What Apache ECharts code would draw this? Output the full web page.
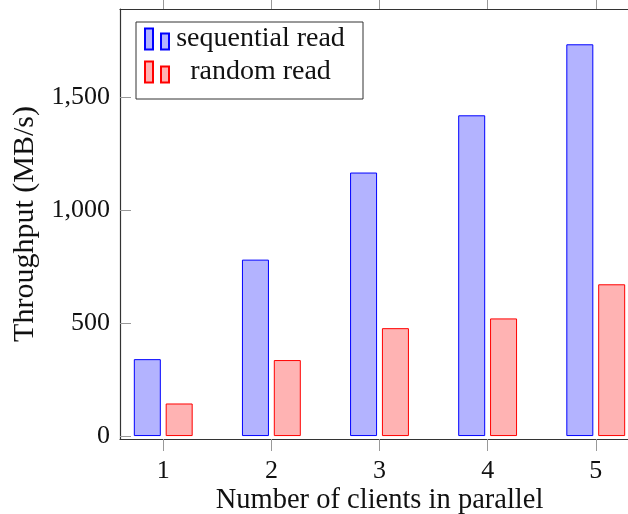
<!DOCTYPE html>
<html>
<head>
<meta charset="utf-8">
<script src="https://cdn.jsdelivr.net/npm/echarts@6/dist/echarts.min.js"></script>
<style>html,body{margin:0;padding:0;background:#fff}#c{width:628px;height:514px}</style>
</head>
<body>
<div id="c"></div>
<script>
const clients = [1, 2, 3, 4, 5];
const sequentialRead = [340, 780, 1165, 1418, 1732];
const randomRead = [144, 336, 477, 520, 671];
const yTicks = [0, 500, 1000, 1500];
const seriesNames = ['sequential read', 'random read'];

const FONT = '"Liberation Serif", "Times New Roman", serif';
const chart = echarts.init(document.getElementById('c'), null, {renderer: 'canvas'});
const tickStyle = {color: '#999', width: 1};
const lineStyle = {color: '#333', width: 1.2};
const iconPath = 'path://M0,0L8,0L8,21L0,21Z M16,5L24,5L24,21L16,21Z';

chart.setOption({
  animation: false,
  backgroundColor: '#fff',
  grid: {left: 120, top: 9, right: -11, bottom: 75, containLabel: false, outerBoundsMode: 'none'},
  legend: {
    orient: 'vertical',
    left: 136, top: 22,
    padding: [3, 16, 13, 8],
    itemGap: 5,
    itemWidth: 24, itemHeight: 21,
    itemTextGap: 5,
    borderColor: '#333', borderWidth: 1,
    backgroundColor: '#fff',
    data: seriesNames.map(n => ({name: n, icon: iconPath})),
    formatter: n => '{t|' + n + '}',
    textStyle: {
      fontFamily: FONT, fontSize: 28, color: '#111',
      rich: {t: {fontFamily: FONT, fontSize: 28, lineHeight: 28, color: '#111', width: 173, align: 'center'}}
    }
  },
  xAxis: [{
    type: 'value', min: 0.6, max: 5.4, position: 'bottom',
    axisLine: {show: true, onZero: false, lineStyle},
    axisTick: {show: true, inside: false, length: 12, lineStyle: tickStyle, customValues: clients},
    axisLabel: {fontFamily: FONT, fontSize: 26, color: '#111', margin: 19, customValues: clients},
    splitLine: {show: false},
    name: 'Number of clients in parallel', nameLocation: 'middle', nameGap: 47, nameMoveOverlap: false,
    nameTextStyle: {fontFamily: FONT, fontSize: 28.5, color: '#111'}
  }, {
    type: 'value', min: 0.6, max: 5.4, position: 'top',
    axisLine: {show: true, onZero: false, lineStyle},
    axisTick: {show: true, inside: false, length: 12, lineStyle: tickStyle, customValues: clients},
    axisLabel: {show: false},
    splitLine: {show: false}
  }],
  yAxis: {
    type: 'value', min: -13, max: 1888,
    axisLine: {show: true, onZero: false, lineStyle},
    axisTick: {show: true, inside: true, length: 11, lineStyle: tickStyle, customValues: yTicks},
    axisLabel: {fontFamily: FONT, fontSize: 26, color: '#111', margin: 10, customValues: yTicks,
      formatter: v => v.toLocaleString('en-US')},
    splitLine: {show: false},
    name: 'Throughput (MB/s)', nameLocation: 'middle', nameGap: 80, nameRotate: 90, nameMoveOverlap: false,
    nameTextStyle: {fontFamily: FONT, fontSize: 30, color: '#111'}
  },
  series: [{
    name: seriesNames[0], type: 'bar', xAxisIndex: 0,
    data: clients.map((c, i) => [c, sequentialRead[i]]),
    barWidth: 27, barGap: '18%',
    itemStyle: {color: '#b3b3ff', borderColor: '#0000ff', borderWidth: 1}
  }, {
    name: seriesNames[1], type: 'bar', xAxisIndex: 0,
    data: clients.map((c, i) => [c, randomRead[i]]),
    barWidth: 27, barGap: '18%',
    itemStyle: {color: '#ffb3b3', borderColor: '#ff0000', borderWidth: 1}
  }]
});
</script>
</body>
</html>
